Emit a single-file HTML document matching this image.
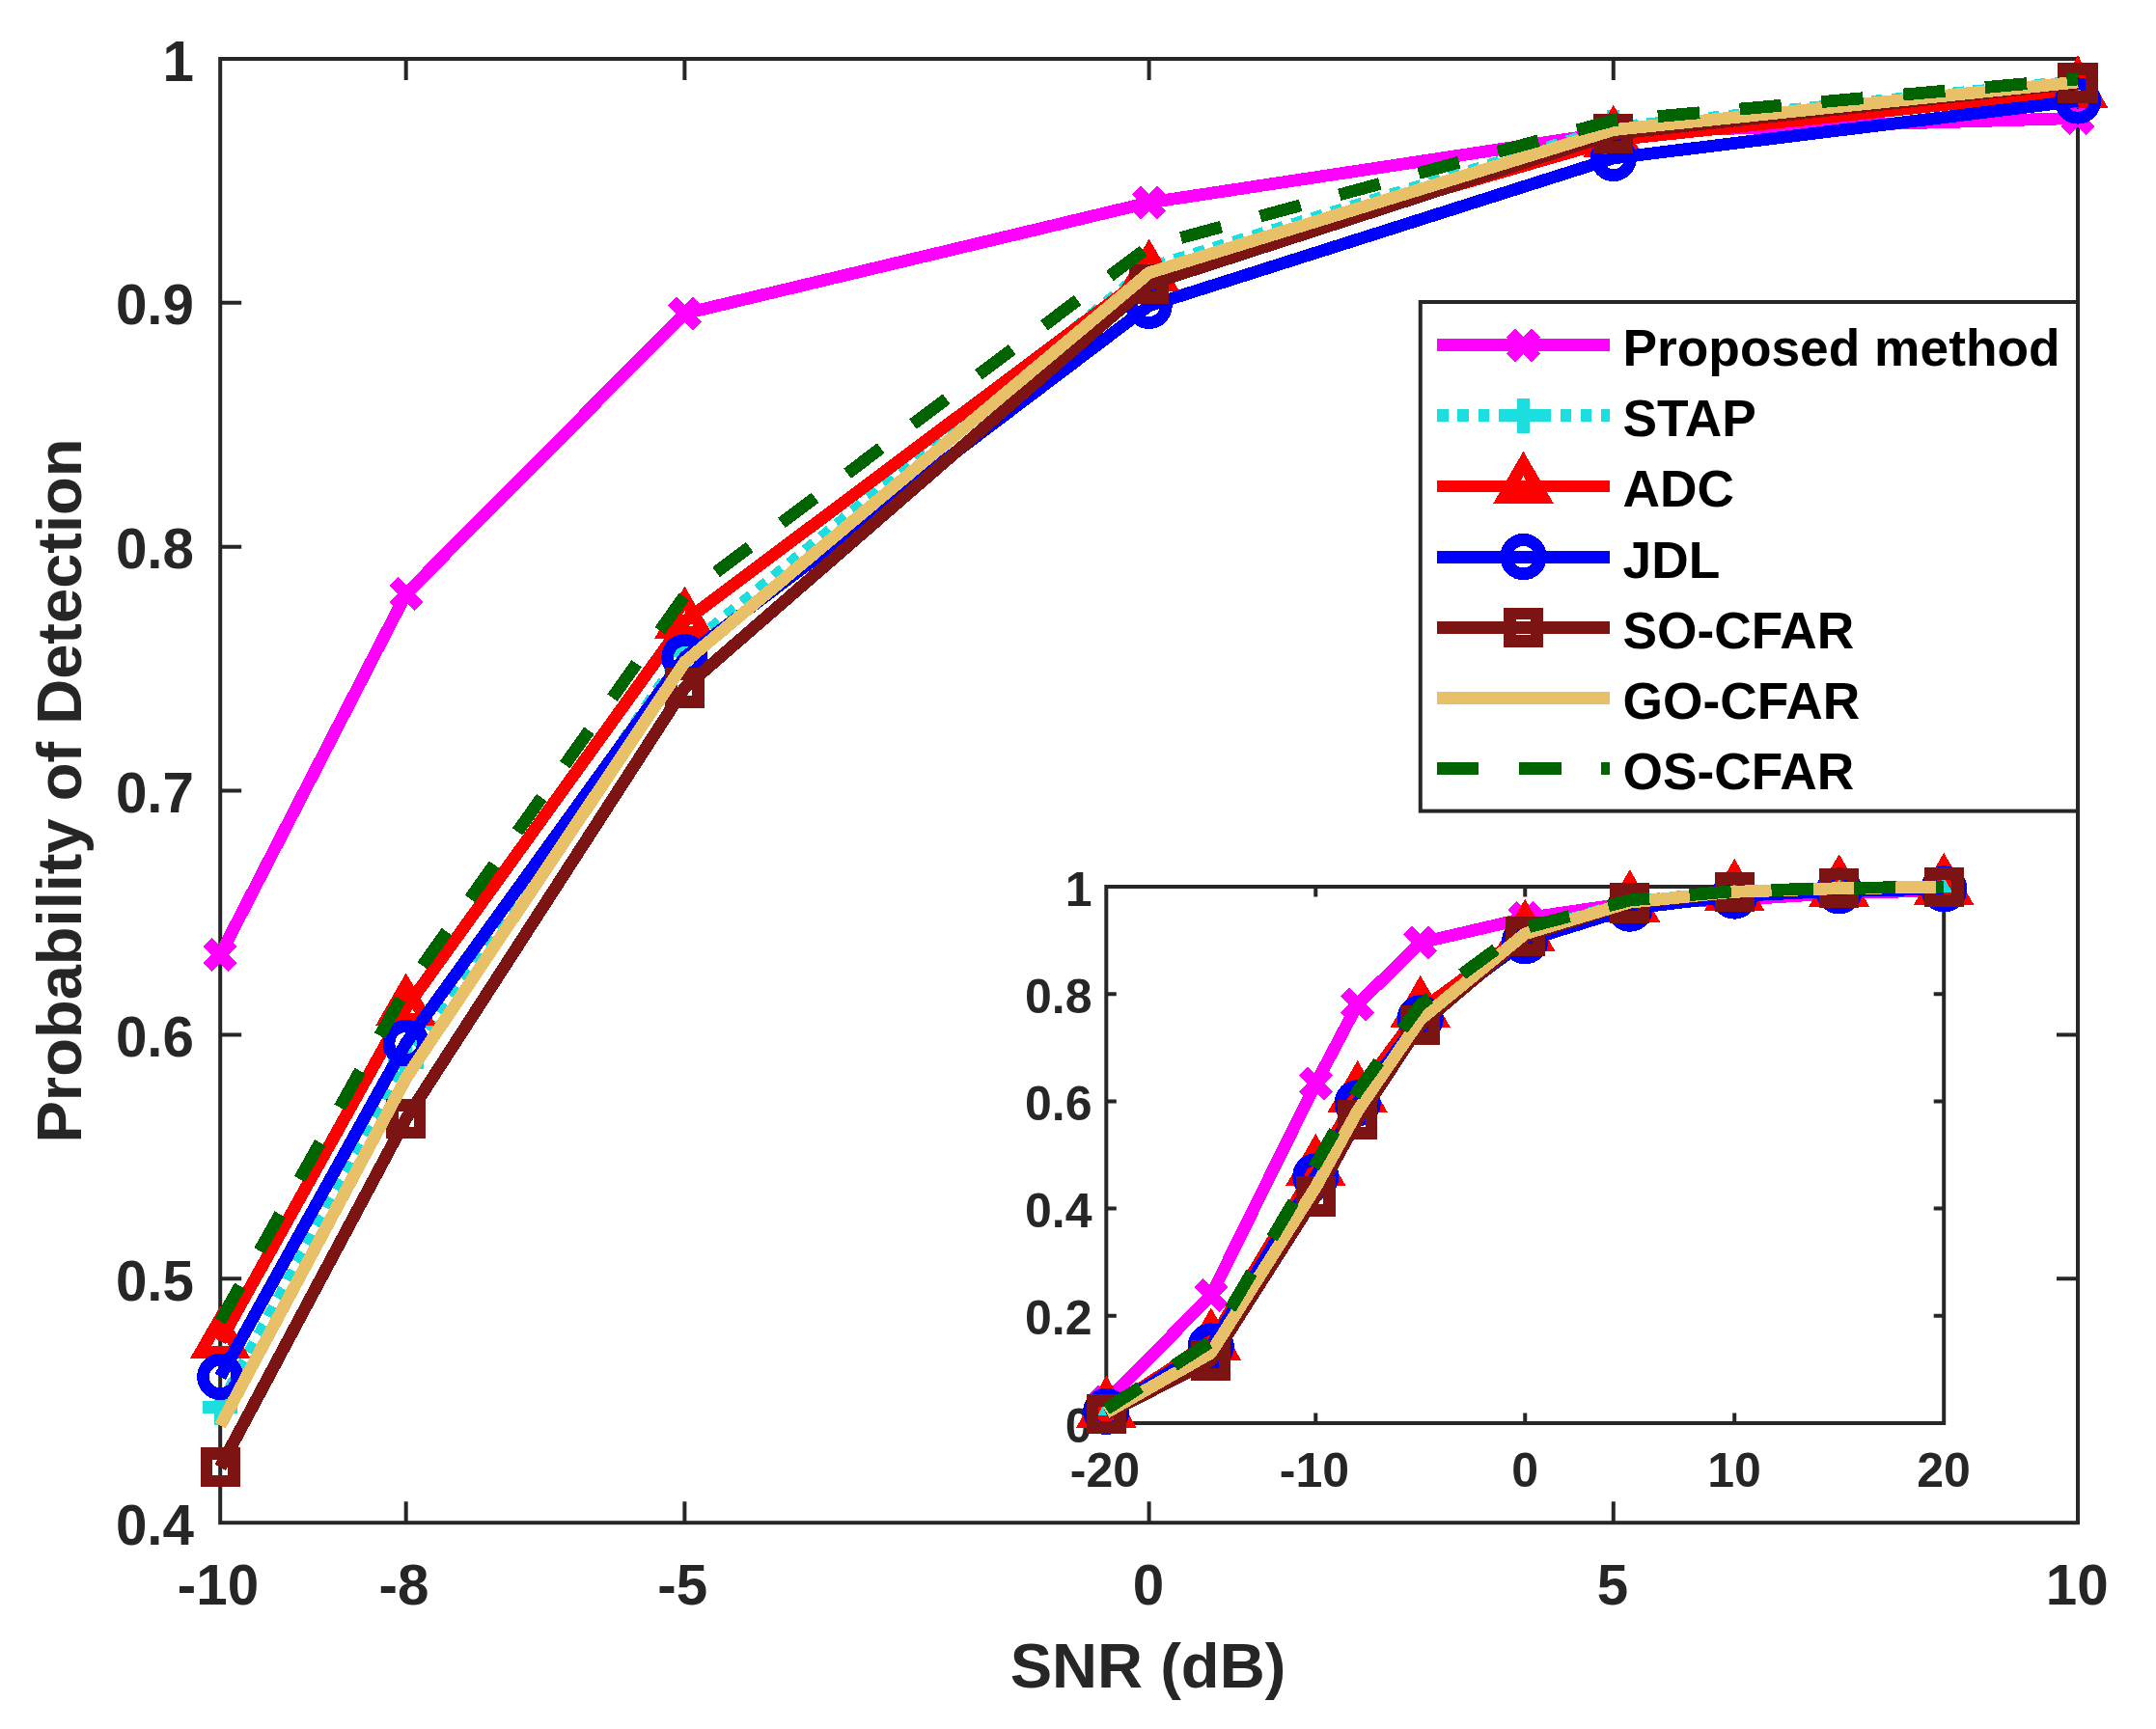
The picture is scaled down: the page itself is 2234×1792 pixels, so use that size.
<!DOCTYPE html>
<html><head><meta charset="utf-8"><title>Probability of Detection vs SNR</title>
<style>html,body{margin:0;padding:0;background:#fff}svg{display:block}</style></head>
<body>
<svg width="2234" height="1792" viewBox="0 0 2234 1792" font-family="'Liberation Sans', Arial, Helvetica, sans-serif" font-weight="bold">
<rect width="2234" height="1792" fill="#fff"/>
<defs><clipPath id="cm"><rect x="228.2" y="61" width="1924.8" height="1517.2"/></clipPath><clipPath id="ci"><rect x="1146.3" y="919" width="867.9" height="556"/></clipPath></defs>
<g stroke="#262626" stroke-width="4" fill="none">
<rect x="228.2" y="61" width="1924.8" height="1517.2" fill="#fff"/>
<path d="M420.68 1578.2V1556.2M420.68 61V83M709.4 1578.2V1556.2M709.4 61V83M1190.6 1578.2V1556.2M1190.6 61V83M1671.8 1578.2V1556.2M1671.8 61V83M228.2 1325.33H250.2M2153 1325.33H2131M228.2 1072.47H250.2M2153 1072.47H2131M228.2 819.6H250.2M2153 819.6H2131M228.2 566.73H250.2M2153 566.73H2131M228.2 313.87H250.2M2153 313.87H2131"/>
</g>
<g fill="#262626" font-size="58.33">
<text x="226" y="1662.5" text-anchor="middle">-10</text>
<text x="418.48" y="1662.5" text-anchor="middle">-8</text>
<text x="707.2" y="1662.5" text-anchor="middle">-5</text>
<text x="1189.9" y="1662.5" text-anchor="middle">0</text>
<text x="1671.1" y="1662.5" text-anchor="middle">5</text>
<text x="2152.3" y="1662.5" text-anchor="middle">10</text>
<text x="201" y="1600.7" text-anchor="end">0.4</text>
<text x="201" y="1347.83" text-anchor="end">0.5</text>
<text x="201" y="1094.97" text-anchor="end">0.6</text>
<text x="201" y="842.1" text-anchor="end">0.7</text>
<text x="201" y="589.23" text-anchor="end">0.8</text>
<text x="201" y="336.37" text-anchor="end">0.9</text>
<text x="201" y="83.5" text-anchor="end">1</text>
</g>
<g shape-rendering="crispEdges">
<polyline points="228.2,989.53 420.68,615.54 709.4,324.99 1190.6,209.94 1671.8,136.86 2153,122.45" fill="none" stroke="#FF00FF" stroke-width="12.8" stroke-linejoin="round"/>
<path d="M215.2 976.53L241.2 1002.53M215.2 1002.53L241.2 976.53" stroke="#FF00FF" stroke-width="12.8" fill="none"/>
<path d="M407.68 602.54L433.68 628.54M407.68 628.54L433.68 602.54" stroke="#FF00FF" stroke-width="12.8" fill="none"/>
<path d="M696.4 311.99L722.4 337.99M696.4 337.99L722.4 311.99" stroke="#FF00FF" stroke-width="12.8" fill="none"/>
<path d="M1177.6 196.94L1203.6 222.94M1177.6 222.94L1203.6 196.94" stroke="#FF00FF" stroke-width="12.8" fill="none"/>
<path d="M1658.8 123.86L1684.8 149.86M1658.8 149.86L1684.8 123.86" stroke="#FF00FF" stroke-width="12.8" fill="none"/>
<path d="M2140 109.45L2166 135.45M2140 135.45L2166 109.45" stroke="#FF00FF" stroke-width="12.8" fill="none"/>
<polyline points="228.2,1458.34 420.68,1101.8 709.4,674.2 1190.6,277.45 1671.8,132.31 2153,84.01" fill="none" stroke="#1CDEDE" stroke-width="12.8" stroke-linejoin="round" stroke-dasharray="11.6 9.65"/>
<path d="M210 1458.34L246.4 1458.34M228.2 1440.14L228.2 1476.54" stroke="#1CDEDE" stroke-width="12.8" fill="none"/>
<path d="M402.48 1101.8L438.88 1101.8M420.68 1083.6L420.68 1120" stroke="#1CDEDE" stroke-width="12.8" fill="none"/>
<path d="M691.2 674.2L727.6 674.2M709.4 656L709.4 692.4" stroke="#1CDEDE" stroke-width="12.8" fill="none"/>
<path d="M1172.4 277.45L1208.8 277.45M1190.6 259.25L1190.6 295.65" stroke="#1CDEDE" stroke-width="12.8" fill="none"/>
<path d="M1653.6 132.31L1690 132.31M1671.8 114.11L1671.8 150.51" stroke="#1CDEDE" stroke-width="12.8" fill="none"/>
<path d="M2134.8 84.01L2171.2 84.01M2153 65.81L2153 102.21" stroke="#1CDEDE" stroke-width="12.8" fill="none"/>
<polyline points="228.2,1390.07 420.68,1044.65 709.4,643.86 1190.6,283.78 1671.8,144.95 2153,93.87" fill="none" stroke="#FF0000" stroke-width="12.8" stroke-linejoin="round"/>
<path d="M228.2 1366.57L248.55 1401.82L207.85 1401.82Z" stroke="#FF0000" stroke-width="12.8" fill="none" stroke-linejoin="miter" stroke-miterlimit="10"/>
<path d="M420.68 1021.15L441.03 1056.4L400.33 1056.4Z" stroke="#FF0000" stroke-width="12.8" fill="none" stroke-linejoin="miter" stroke-miterlimit="10"/>
<path d="M709.4 620.36L729.75 655.61L689.05 655.61Z" stroke="#FF0000" stroke-width="12.8" fill="none" stroke-linejoin="miter" stroke-miterlimit="10"/>
<path d="M1190.6 260.28L1210.95 295.53L1170.25 295.53Z" stroke="#FF0000" stroke-width="12.8" fill="none" stroke-linejoin="miter" stroke-miterlimit="10"/>
<path d="M1671.8 121.45L1692.15 156.7L1651.45 156.7Z" stroke="#FF0000" stroke-width="12.8" fill="none" stroke-linejoin="miter" stroke-miterlimit="10"/>
<path d="M2153 70.37L2173.35 105.62L2132.65 105.62Z" stroke="#FF0000" stroke-width="12.8" fill="none" stroke-linejoin="miter" stroke-miterlimit="10"/>
<polyline points="228.2,1426.99 420.68,1081.06 709.4,681.28 1190.6,316.9 1671.8,163.92 2153,104.49" fill="none" stroke="#0000FF" stroke-width="12.8" stroke-linejoin="round"/>
<circle cx="228.2" cy="1426.99" r="17.7" stroke="#0000FF" stroke-width="12.8" fill="none"/>
<circle cx="420.68" cy="1081.06" r="17.7" stroke="#0000FF" stroke-width="12.8" fill="none"/>
<circle cx="709.4" cy="681.28" r="17.7" stroke="#0000FF" stroke-width="12.8" fill="none"/>
<circle cx="1190.6" cy="316.9" r="17.7" stroke="#0000FF" stroke-width="12.8" fill="none"/>
<circle cx="1671.8" cy="163.92" r="17.7" stroke="#0000FF" stroke-width="12.8" fill="none"/>
<circle cx="2153" cy="104.49" r="17.7" stroke="#0000FF" stroke-width="12.8" fill="none"/>
<polyline points="228.2,1520.8 420.68,1159.71 709.4,712.89 1190.6,294.65 1671.8,138.63 2153,86.03" fill="none" stroke="#7C1414" stroke-width="12.8" stroke-linejoin="round"/>
<rect x="213.95" y="1506.55" width="28.5" height="28.5" stroke="#7C1414" stroke-width="12.8" fill="none"/>
<rect x="406.43" y="1145.46" width="28.5" height="28.5" stroke="#7C1414" stroke-width="12.8" fill="none"/>
<rect x="695.15" y="698.64" width="28.5" height="28.5" stroke="#7C1414" stroke-width="12.8" fill="none"/>
<rect x="1176.35" y="280.4" width="28.5" height="28.5" stroke="#7C1414" stroke-width="12.8" fill="none"/>
<rect x="1657.55" y="124.38" width="28.5" height="28.5" stroke="#7C1414" stroke-width="12.8" fill="none"/>
<rect x="2138.75" y="71.78" width="28.5" height="28.5" stroke="#7C1414" stroke-width="12.8" fill="none"/>
<polyline points="228.2,1477.56 420.68,1117.48 709.4,686.34 1190.6,282.76 1671.8,134.58 2153,85.02" fill="none" stroke="#E8C068" stroke-width="12.8" stroke-linejoin="round"/>
<polyline points="228.2,1369.33 420.68,1024.93 709.4,617.56 1190.6,255.45 1671.8,124.72 2153,81.99" fill="none" stroke="#006400" stroke-width="12.8" stroke-linejoin="round" stroke-dasharray="43.4 41.7" stroke-dashoffset="1.5"/>
</g>
<text x="1189.5" y="1749" font-size="65.1" text-anchor="middle" fill="#262626">SNR (dB)</text>
<text transform="translate(84.2 819.5) rotate(-90)" font-size="65.05" text-anchor="middle" fill="#262626">Probability of Detection</text>
<rect x="1471.8" y="313" width="681.2" height="527.6" fill="#fff" stroke="#262626" stroke-width="4"/>
<g shape-rendering="crispEdges">
<path d="M1489 357.6H1668" fill="none" stroke="#FF00FF" stroke-width="12.8"/>
<path d="M1565.5 344.6L1591.5 370.6M1565.5 370.6L1591.5 344.6" stroke="#FF00FF" stroke-width="12.8" fill="none"/>
<path d="M1489 430.77H1668" fill="none" stroke="#1CDEDE" stroke-width="12.8" stroke-dasharray="11.6 9.65"/>
<path d="M1560.3 430.77L1596.7 430.77M1578.5 412.57L1578.5 448.97" stroke="#1CDEDE" stroke-width="12.8" fill="none"/>
<path d="M1489 503.94H1668" fill="none" stroke="#FF0000" stroke-width="12.8"/>
<path d="M1578.5 480.44L1598.85 515.69L1558.15 515.69Z" stroke="#FF0000" stroke-width="12.8" fill="none" stroke-linejoin="miter" stroke-miterlimit="10"/>
<path d="M1489 577.11H1668" fill="none" stroke="#0000FF" stroke-width="12.8"/>
<circle cx="1578.5" cy="577.11" r="17.7" stroke="#0000FF" stroke-width="12.8" fill="none"/>
<path d="M1489 650.28H1668" fill="none" stroke="#7C1414" stroke-width="12.8"/>
<rect x="1564.25" y="636.03" width="28.5" height="28.5" stroke="#7C1414" stroke-width="12.8" fill="none"/>
<path d="M1489 723.45H1668" fill="none" stroke="#E8C068" stroke-width="12.8"/>
<path d="M1489 796.62H1668" fill="none" stroke="#006400" stroke-width="12.8" stroke-dasharray="43.4 41.7"/>
</g>
<text x="1681.5" y="379.1" font-size="53.3" fill="#000">Proposed method</text>
<text x="1681.5" y="452.27" font-size="53.3" fill="#000">STAP</text>
<text x="1681.5" y="525.44" font-size="53.3" fill="#000">ADC</text>
<text x="1681.5" y="598.61" font-size="53.3" fill="#000">JDL</text>
<text x="1681.5" y="671.78" font-size="53.3" fill="#000">SO-CFAR</text>
<text x="1681.5" y="744.95" font-size="53.3" fill="#000">GO-CFAR</text>
<text x="1681.5" y="818.12" font-size="53.3" fill="#000">OS-CFAR</text>
<g stroke="#262626" stroke-width="4" fill="none">
<rect x="1146.3" y="919" width="867.9" height="556" fill="#fff"/>
<path d="M1363.27 1475V1464.5M1363.27 919V929.5M1580.25 1475V1464.5M1580.25 919V929.5M1797.22 1475V1464.5M1797.22 919V929.5M1146.3 1363.8H1156.8M2014.2 1363.8H2003.7M1146.3 1252.6H1156.8M2014.2 1252.6H2003.7M1146.3 1141.4H1156.8M2014.2 1141.4H2003.7M1146.3 1030.2H1156.8M2014.2 1030.2H2003.7"/>
</g>
<g fill="#262626" font-size="50">
<text x="1145" y="1541.2" text-anchor="middle">-20</text>
<text x="1361.97" y="1541.2" text-anchor="middle">-10</text>
<text x="1580.05" y="1541.2" text-anchor="middle">0</text>
<text x="1797.02" y="1541.2" text-anchor="middle">10</text>
<text x="2014" y="1541.2" text-anchor="middle">20</text>
<text x="1131.5" y="1494.5" text-anchor="end">0</text>
<text x="1131.5" y="1383.3" text-anchor="end">0.2</text>
<text x="1131.5" y="1272.1" text-anchor="end">0.4</text>
<text x="1131.5" y="1160.9" text-anchor="end">0.6</text>
<text x="1131.5" y="1049.7" text-anchor="end">0.8</text>
<text x="1131.5" y="938.5" text-anchor="end">1</text>
</g>
<g shape-rendering="crispEdges">
<polyline points="1146.3,1452.76 1254.79,1342.67 1363.27,1123.16 1406.67,1040.93 1471.76,977.05 1580.25,951.75 1688.74,935.68 1797.22,932.51 1905.71,925.67 2014.2,922.89" fill="none" stroke="#FF00FF" stroke-width="12.8" stroke-linejoin="round"/>
<path d="M1133.3 1439.76L1159.3 1465.76M1133.3 1465.76L1159.3 1439.76" stroke="#FF00FF" stroke-width="12.8" fill="none"/>
<path d="M1241.79 1329.67L1267.79 1355.67M1241.79 1355.67L1267.79 1329.67" stroke="#FF00FF" stroke-width="12.8" fill="none"/>
<path d="M1350.27 1110.16L1376.27 1136.16M1350.27 1136.16L1376.27 1110.16" stroke="#FF00FF" stroke-width="12.8" fill="none"/>
<path d="M1393.67 1027.93L1419.67 1053.93M1393.67 1053.93L1419.67 1027.93" stroke="#FF00FF" stroke-width="12.8" fill="none"/>
<path d="M1458.76 964.05L1484.76 990.05M1458.76 990.05L1484.76 964.05" stroke="#FF00FF" stroke-width="12.8" fill="none"/>
<path d="M1567.25 938.75L1593.25 964.75M1567.25 964.75L1593.25 938.75" stroke="#FF00FF" stroke-width="12.8" fill="none"/>
<path d="M1675.74 922.68L1701.74 948.68M1675.74 948.68L1701.74 922.68" stroke="#FF00FF" stroke-width="12.8" fill="none"/>
<path d="M1784.22 919.51L1810.22 945.51M1784.22 945.51L1810.22 919.51" stroke="#FF00FF" stroke-width="12.8" fill="none"/>
<path d="M1892.71 912.67L1918.71 938.67M1892.71 938.67L1918.71 912.67" stroke="#FF00FF" stroke-width="12.8" fill="none"/>
<path d="M2001.2 909.89L2027.2 935.89M2001.2 935.89L2027.2 909.89" stroke="#FF00FF" stroke-width="12.8" fill="none"/>
<polyline points="1146.3,1463.88 1254.79,1399.94 1363.27,1226.25 1406.67,1147.85 1471.76,1053.83 1580.25,966.59 1688.74,934.68 1797.22,924.06 1905.71,920.67 2014.2,919.28" fill="none" stroke="#1CDEDE" stroke-width="12.8" stroke-linejoin="round" stroke-dasharray="11.6 9.65"/>
<path d="M1128.1 1463.88L1164.5 1463.88M1146.3 1445.68L1146.3 1482.08" stroke="#1CDEDE" stroke-width="12.8" fill="none"/>
<path d="M1236.59 1399.94L1272.99 1399.94M1254.79 1381.74L1254.79 1418.14" stroke="#1CDEDE" stroke-width="12.8" fill="none"/>
<path d="M1345.07 1226.25L1381.47 1226.25M1363.27 1208.05L1363.27 1244.45" stroke="#1CDEDE" stroke-width="12.8" fill="none"/>
<path d="M1388.47 1147.85L1424.87 1147.85M1406.67 1129.65L1406.67 1166.05" stroke="#1CDEDE" stroke-width="12.8" fill="none"/>
<path d="M1453.56 1053.83L1489.96 1053.83M1471.76 1035.63L1471.76 1072.03" stroke="#1CDEDE" stroke-width="12.8" fill="none"/>
<path d="M1562.05 966.59L1598.45 966.59M1580.25 948.39L1580.25 984.79" stroke="#1CDEDE" stroke-width="12.8" fill="none"/>
<path d="M1670.54 934.68L1706.94 934.68M1688.74 916.48L1688.74 952.88" stroke="#1CDEDE" stroke-width="12.8" fill="none"/>
<path d="M1779.02 924.06L1815.42 924.06M1797.22 905.86L1797.22 942.26" stroke="#1CDEDE" stroke-width="12.8" fill="none"/>
<path d="M1887.51 920.67L1923.91 920.67M1905.71 902.47L1905.71 938.87" stroke="#1CDEDE" stroke-width="12.8" fill="none"/>
<path d="M1996 919.28L2032.4 919.28M2014.2 901.08L2014.2 937.48" stroke="#1CDEDE" stroke-width="12.8" fill="none"/>
<polyline points="1146.3,1461.88 1254.79,1391.82 1363.27,1211.23 1406.67,1135.28 1471.76,1047.16 1580.25,967.98 1688.74,937.46 1797.22,926.23 1905.71,921.5 2014.2,920.11" fill="none" stroke="#FF0000" stroke-width="12.8" stroke-linejoin="round"/>
<path d="M1146.3 1438.38L1166.65 1473.63L1125.95 1473.63Z" stroke="#FF0000" stroke-width="12.8" fill="none" stroke-linejoin="miter" stroke-miterlimit="10"/>
<path d="M1254.79 1368.32L1275.14 1403.57L1234.44 1403.57Z" stroke="#FF0000" stroke-width="12.8" fill="none" stroke-linejoin="miter" stroke-miterlimit="10"/>
<path d="M1363.27 1187.73L1383.63 1222.98L1342.92 1222.98Z" stroke="#FF0000" stroke-width="12.8" fill="none" stroke-linejoin="miter" stroke-miterlimit="10"/>
<path d="M1406.67 1111.78L1427.02 1147.03L1386.32 1147.03Z" stroke="#FF0000" stroke-width="12.8" fill="none" stroke-linejoin="miter" stroke-miterlimit="10"/>
<path d="M1471.76 1023.66L1492.11 1058.91L1451.41 1058.91Z" stroke="#FF0000" stroke-width="12.8" fill="none" stroke-linejoin="miter" stroke-miterlimit="10"/>
<path d="M1580.25 944.48L1600.6 979.73L1559.9 979.73Z" stroke="#FF0000" stroke-width="12.8" fill="none" stroke-linejoin="miter" stroke-miterlimit="10"/>
<path d="M1688.74 913.96L1709.09 949.21L1668.39 949.21Z" stroke="#FF0000" stroke-width="12.8" fill="none" stroke-linejoin="miter" stroke-miterlimit="10"/>
<path d="M1797.22 902.73L1817.58 937.98L1776.87 937.98Z" stroke="#FF0000" stroke-width="12.8" fill="none" stroke-linejoin="miter" stroke-miterlimit="10"/>
<path d="M1905.71 898L1926.06 933.25L1885.36 933.25Z" stroke="#FF0000" stroke-width="12.8" fill="none" stroke-linejoin="miter" stroke-miterlimit="10"/>
<path d="M2014.2 896.61L2034.55 931.86L1993.85 931.86Z" stroke="#FF0000" stroke-width="12.8" fill="none" stroke-linejoin="miter" stroke-miterlimit="10"/>
<polyline points="1146.3,1462.88 1254.79,1395.49 1363.27,1219.35 1406.67,1143.29 1471.76,1055.39 1580.25,975.27 1688.74,941.63 1797.22,928.56 1905.71,923.28 2014.2,921.39" fill="none" stroke="#0000FF" stroke-width="12.8" stroke-linejoin="round"/>
<circle cx="1146.3" cy="1462.88" r="17.7" stroke="#0000FF" stroke-width="12.8" fill="none"/>
<circle cx="1254.79" cy="1395.49" r="17.7" stroke="#0000FF" stroke-width="12.8" fill="none"/>
<circle cx="1363.27" cy="1219.35" r="17.7" stroke="#0000FF" stroke-width="12.8" fill="none"/>
<circle cx="1406.67" cy="1143.29" r="17.7" stroke="#0000FF" stroke-width="12.8" fill="none"/>
<circle cx="1471.76" cy="1055.39" r="17.7" stroke="#0000FF" stroke-width="12.8" fill="none"/>
<circle cx="1580.25" cy="975.27" r="17.7" stroke="#0000FF" stroke-width="12.8" fill="none"/>
<circle cx="1688.74" cy="941.63" r="17.7" stroke="#0000FF" stroke-width="12.8" fill="none"/>
<circle cx="1797.22" cy="928.56" r="17.7" stroke="#0000FF" stroke-width="12.8" fill="none"/>
<circle cx="1905.71" cy="923.28" r="17.7" stroke="#0000FF" stroke-width="12.8" fill="none"/>
<circle cx="2014.2" cy="921.39" r="17.7" stroke="#0000FF" stroke-width="12.8" fill="none"/>
<polyline points="1146.3,1465.49 1254.79,1410.11 1363.27,1239.98 1406.67,1160.58 1471.76,1062.34 1580.25,970.37 1688.74,936.07 1797.22,924.5 1905.71,920.28 2014.2,919.39" fill="none" stroke="#7C1414" stroke-width="12.8" stroke-linejoin="round"/>
<rect x="1132.05" y="1451.24" width="28.5" height="28.5" stroke="#7C1414" stroke-width="12.8" fill="none"/>
<rect x="1240.54" y="1395.86" width="28.5" height="28.5" stroke="#7C1414" stroke-width="12.8" fill="none"/>
<rect x="1349.02" y="1225.73" width="28.5" height="28.5" stroke="#7C1414" stroke-width="12.8" fill="none"/>
<rect x="1392.42" y="1146.33" width="28.5" height="28.5" stroke="#7C1414" stroke-width="12.8" fill="none"/>
<rect x="1457.51" y="1048.09" width="28.5" height="28.5" stroke="#7C1414" stroke-width="12.8" fill="none"/>
<rect x="1566" y="956.12" width="28.5" height="28.5" stroke="#7C1414" stroke-width="12.8" fill="none"/>
<rect x="1674.49" y="921.82" width="28.5" height="28.5" stroke="#7C1414" stroke-width="12.8" fill="none"/>
<rect x="1782.97" y="910.25" width="28.5" height="28.5" stroke="#7C1414" stroke-width="12.8" fill="none"/>
<rect x="1891.46" y="906.03" width="28.5" height="28.5" stroke="#7C1414" stroke-width="12.8" fill="none"/>
<rect x="1999.95" y="905.14" width="28.5" height="28.5" stroke="#7C1414" stroke-width="12.8" fill="none"/>
<polyline points="1146.3,1463.99 1254.79,1402.16 1363.27,1230.47 1406.67,1151.3 1471.76,1056.5 1580.25,967.76 1688.74,935.18 1797.22,924.28 1905.71,920.67 2014.2,919.28" fill="none" stroke="#E8C068" stroke-width="12.8" stroke-linejoin="round"/>
<polyline points="1146.3,1460.54 1254.79,1390.49 1363.27,1206.67 1406.67,1130.95 1471.76,1041.38 1580.25,961.76 1688.74,933.01 1797.22,923.61 1905.71,920.39 2014.2,919.28" fill="none" stroke="#006400" stroke-width="12.8" stroke-linejoin="round" stroke-dasharray="43.4 41.7" stroke-dashoffset="1.5"/>
</g>
</svg>
</body></html>
